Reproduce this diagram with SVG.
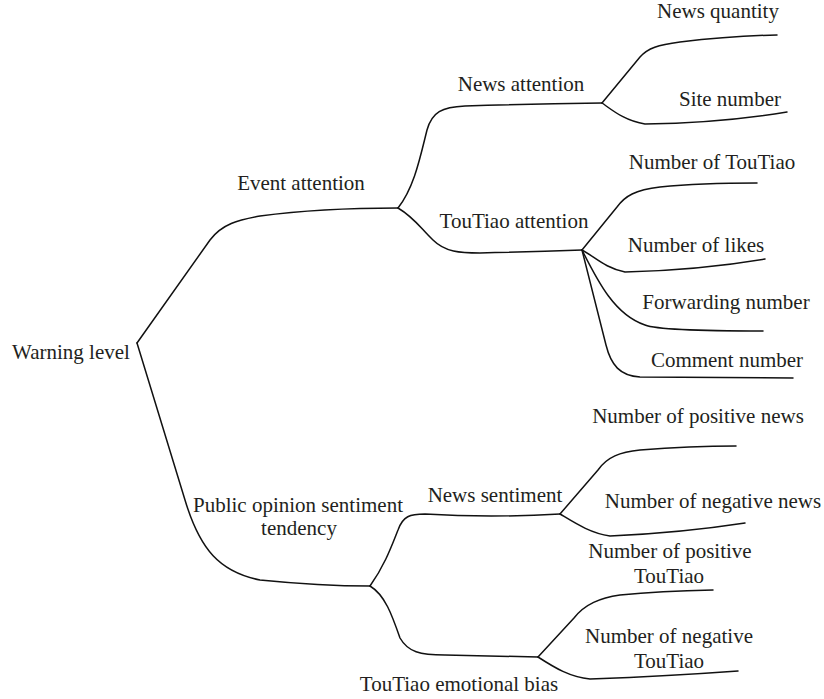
<svg xmlns="http://www.w3.org/2000/svg" width="824" height="699" viewBox="0 0 824 699">
<style>
  .lbl { font-family: "Liberation Serif", "DejaVu Serif", serif; font-size: 21px; fill: #231f20; text-anchor: middle; }
  .edge { fill: none; stroke: #111; stroke-width: 1.5; stroke-linecap: round; stroke-linejoin: round; }
</style>
<rect width="824" height="699" fill="#ffffff"/>
<g id="connectors">
  <path class="edge" d="M137,343 L210,240 C222,224 238,220 260,216 Q320,208 398,208"/>
  <path class="edge" d="M137,343 L185,500 C200,550 220,572 260,580 Q320,586 370,586"/>
  <path class="edge" d="M398,208 C414,188 420,158 427,130 C432,112 442,107 465,106 Q530,104 602,103"/>
  <path class="edge" d="M398,208 C415,218 422,230 433,240 C445,252 460,253 480,253 Q530,252 582,250"/>
  <path class="edge" d="M602,103 L640,57 C648,48 658,45 680,42 Q730,36 777,35"/>
  <path class="edge" d="M602,103 C612,110 625,121 645,124 Q720,123 787,112"/>
  <path class="edge" d="M582,250 L617,207 C625,196 635,190 660,187 Q700,183 757,183"/>
  <path class="edge" d="M582,250 C595,257 605,268 625,272 Q700,270 765,259"/>
  <path class="edge" d="M582,250 C598,282 615,315 645,325 Q660,331 763,331"/>
  <path class="edge" d="M582,250 L606,345 C611,365 620,376 640,377 L793,378"/>
  <path class="edge" d="M370,586 C385,565 392,545 398,530 C403,516 410,514 425,514 Q490,518 560,514"/>
  <path class="edge" d="M370,586 C385,595 392,615 400,638 C408,652 420,655 445,655 Q500,656 538,657"/>
  <path class="edge" d="M560,514 L598,470 C607,457 620,452 640,450 Q690,446 736,446"/>
  <path class="edge" d="M560,514 C575,523 590,533 610,536 Q680,533 745,523"/>
  <path class="edge" d="M538,657 L574,618 C585,604 600,598 620,595 Q660,591 713,590"/>
  <path class="edge" d="M538,657 C555,668 570,677 590,679 Q670,676 738,671"/>
</g>
<g id="warning-level"><text class="lbl" x="71" y="359">Warning level</text></g>
<g id="event-attention"><text class="lbl" x="301" y="190">Event attention</text></g>
<g id="news-attention"><text class="lbl" x="521" y="91">News attention</text></g>
<g id="toutiao-attention"><text class="lbl" x="514" y="228">TouTiao attention</text></g>
<g id="news-quantity"><text class="lbl" x="718" y="18">News quantity</text></g>
<g id="site-number"><text class="lbl" x="730" y="106">Site number</text></g>
<g id="number-of-toutiao"><text class="lbl" x="712" y="169">Number of TouTiao</text></g>
<g id="number-of-likes"><text class="lbl" x="696" y="252">Number of likes</text></g>
<g id="forwarding-number"><text class="lbl" x="726" y="309">Forwarding number</text></g>
<g id="comment-number"><text class="lbl" x="727" y="367">Comment number</text></g>
<g id="public-opinion"><text class="lbl" x="298" y="512">Public opinion sentiment</text><text class="lbl" x="299" y="535">tendency</text></g>
<g id="news-sentiment"><text class="lbl" x="495" y="502">News sentiment</text></g>
<g id="toutiao-emotional-bias"><text class="lbl" x="459" y="691">TouTiao emotional bias</text></g>
<g id="positive-news"><text class="lbl" x="698" y="423">Number of positive news</text></g>
<g id="negative-news"><text class="lbl" x="713" y="508">Number of negative news</text></g>
<g id="positive-toutiao"><text class="lbl" x="670" y="558">Number of positive</text><text class="lbl" x="669" y="583">TouTiao</text></g>
<g id="negative-toutiao"><text class="lbl" x="669" y="643">Number of negative</text><text class="lbl" x="669" y="668">TouTiao</text></g>
</svg>
